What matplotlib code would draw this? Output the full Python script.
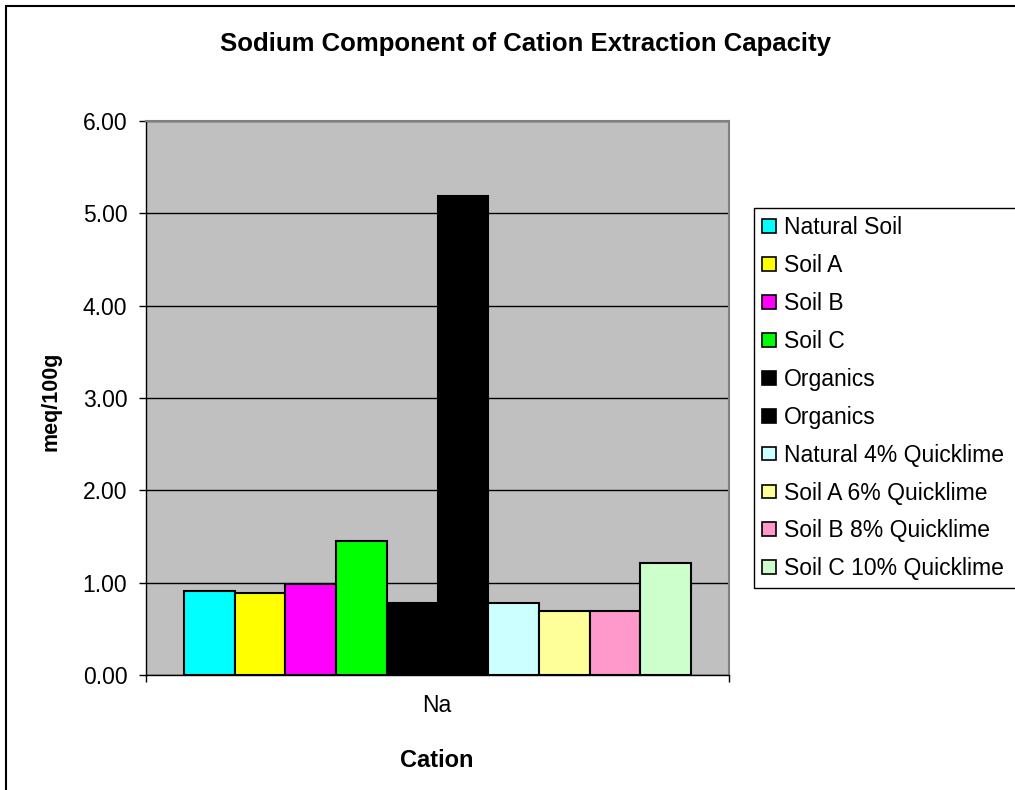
import matplotlib
matplotlib.use("Agg")
import matplotlib.pyplot as plt
from matplotlib.patches import Rectangle, Patch
import numpy as np

plt.rcParams['font.family'] = ['Liberation Sans', 'DejaVu Sans']

category = "Na"
series_names = ["Natural Soil", "Soil A", "Soil B", "Soil C", "Organics", "Organics",
                "Natural 4% Quicklime", "Soil A 6% Quicklime", "Soil B 8% Quicklime",
                "Soil C 10% Quicklime"]
values = [0.91, 0.89, 0.99, 1.45, 0.78, 5.19, 0.78, 0.69, 0.69, 1.21]
colors = ["#00FFFF", "#FFFF00", "#FF00FF", "#00FF00", "#000000", "#000000",
          "#CCFFFF", "#FFFF99", "#FF99CC", "#CCFFCC"]
yticks = [0, 1, 2, 3, 4, 5, 6]

W, H = 1015, 790
fig = plt.figure(figsize=(W / 100, H / 100), dpi=100)
fig.patch.set_facecolor("white")

def fx(px):
    return px / W

def fy(py):
    return 1 - py / H

left, right, top, bottom = 146, 729, 121, 675
ax = fig.add_axes([fx(left), fy(bottom), fx(right - left), (bottom - top) / H])
ax.set_facecolor("#C0C0C0")

n = len(values)
gap = 1.5
total = n + gap
pos = gap / 2 + np.arange(n) + 0.5
ax.set_axisbelow(True)
ax.yaxis.grid(True, color="black", linewidth=1.0)
for i in range(n):
    ax.bar(pos[i], values[i], width=1.0, color=colors[i], edgecolor="black",
           linewidth=1.5, zorder=3)

ax.set_xlim(0, total)
ax.set_ylim(0, 6)
ax.set_yticks(yticks)
ax.set_yticklabels([f"{v:.2f}" for v in yticks], fontsize=16.5)
ax.tick_params(axis="y", direction="out", length=5, width=1, pad=8.5, colors="black")
ax.set_xticks([0, total])
ax.set_xticklabels(["", ""])
ax.tick_params(axis="x", direction="out", length=5, width=1, colors="black")

for s in ["left", "bottom"]:
    ax.spines[s].set_color("black")
    ax.spines[s].set_linewidth(1.0)
for s in ["right", "top"]:
    ax.spines[s].set_color("#808080")
    ax.spines[s].set_linewidth(1.5)

fig.text(fx(437), fy(712), category, ha="center", va="baseline", fontsize=16.5)
fig.text(fx(437), fy(767), "Cation", ha="center", va="baseline", fontsize=17,
         fontweight="bold")
fig.text(fx(51), fy(401), "meq/100g", ha="center", va="center", rotation=90,
         fontsize=15.5, fontweight="bold")
fig.text(fx(525), fy(51), "Sodium Component of Cation Extraction Capacity",
         ha="center", va="baseline", fontsize=18.5, fontweight="bold")

handles = [Patch(facecolor=c, edgecolor="black", linewidth=1.2) for c in colors]
leg = fig.legend(handles, series_names, loc="upper left",
                 bbox_to_anchor=(fx(754), fy(208)), bbox_transform=fig.transFigure,
                 fontsize=16.5, frameon=False, borderaxespad=0,
                 handlelength=0.6, handleheight=0.55, handletextpad=0.36,
                 labelspacing=0.65, borderpad=0.36)

# legend frame (runs past the right edge of the image as in the original)
fig.patches.append(Rectangle((fx(754), fy(588)), fx(300), (588 - 208) / H,
                             transform=fig.transFigure, fill=False,
                             edgecolor="black", linewidth=1.0, zorder=5))

fig.patches.append(Rectangle((fx(6), -0.1), 2, fy(6) + 0.1, transform=fig.transFigure,
                             fill=False, edgecolor="black", linewidth=1.5))

fig.savefig("out.png", dpi=100)
